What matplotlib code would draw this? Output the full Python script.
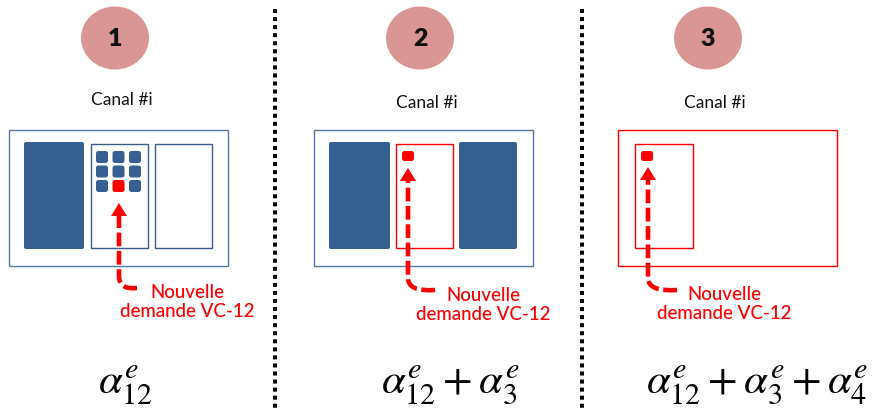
"""Three-step channel allocation diagram (VC-12 request)."""

import matplotlib.pyplot as plt
from matplotlib.patches import Ellipse, FancyBboxPatch, PathPatch, Polygon, Rectangle
from matplotlib.path import Path

plt.rcParams["mathtext.fontset"] = "stix"

# --- content -------------------------------------------------------------
STEP_LABELS = ["1", "2", "3"]
CHANNEL_LABEL = "Canal #i"
REQUEST_LABEL = "Nouvelle\ndemande VC-12"
FORMULAS = [
    r"$\alpha_{12}^{e}$",
    r"$\alpha_{12}^{e}+\alpha_{3}^{e}$",
    r"$\alpha_{12}^{e}+\alpha_{3}^{e}+\alpha_{4}^{e}$",
]
# slot state per panel: full = occupied block, grid = 3x3 tributaries,
# empty = free container, new = container holding only the new VC-12
SLOT_STATES = [
    ["full", "grid", "empty"],
    ["full", "new", "full"],
    ["new"],
]
GRID_ROWS = 3
GRID_COLS = 3
GRID_NEW_CELL = (2, 1)  # row, col of the new VC-12 inside the grid

# --- styles --------------------------------------------------------------
COLORS = {
    "circle": "#D99694",
    "block": "#376092",
    "slot_edge": "#385D8A",
    "outer_edge": "#5577A8",
    "red": "#FF0000",
    "text": "#111111",
}
SANS = ["Lato", "DejaVu Sans"]

# --- layout (pixel space, y pointing down) --------------------------------
W, H = 874, 409
SEPARATORS_X = [275, 582]
PANELS = [
    dict(circle=(115, 38), canal=(122, 100), outer=(9, 130, 219, 136),
         slots=[24, 91, 155], slot_w=[60, 57, 57], arrow_x=119, tip_y=203,
         end=(137, 288), text=(187.5, 302), formula=(126, 394), outer_red=False),
    dict(circle=(420, 38), canal=(427, 103), outer=(314, 130, 219, 136),
         slots=[329, 396, 459], slot_w=[61, 57, 58], arrow_x=408, tip_y=168,
         end=(435, 290), text=(483.5, 305), formula=(450, 394), outer_red=False),
    dict(circle=(708, 38), canal=(715, 103), outer=(618, 130, 219, 136),
         slots=[635], slot_w=[58], arrow_x=648, tip_y=167,
         end=(677, 290), text=(724, 304), formula=(757, 394), outer_red=True),
]
SLOT_TOP, SLOT_H = 144, 104
BLOCK_TOP, BLOCK_H = 142, 107


def draw_panel(ax, p, step, states, formula):
    cx, cy = p["circle"]
    ax.add_patch(Ellipse((cx, cy), 68, 63, facecolor=COLORS["circle"], edgecolor="none"))
    ax.text(cx, cy + 1, step, ha="center", va="center", fontsize=18,
            fontweight="heavy", color=COLORS["text"], family=SANS)
    ax.text(*p["canal"], CHANNEL_LABEL, ha="center", va="center", fontsize=12.5,
            color=COLORS["text"], family=SANS)

    ox, oy, ow, oh = p["outer"]
    outer_color = COLORS["red"] if p["outer_red"] else COLORS["outer_edge"]
    ax.add_patch(Rectangle((ox, oy), ow, oh, fill=False, edgecolor=outer_color, lw=1))

    for x, w, state in zip(p["slots"], p["slot_w"], states):
        if state == "full":
            ax.add_patch(FancyBboxPatch((x, BLOCK_TOP), w, BLOCK_H,
                                        boxstyle="round,pad=0,rounding_size=2",
                                        facecolor=COLORS["block"], edgecolor="none"))
            continue
        edge = COLORS["red"] if state == "new" else COLORS["slot_edge"]
        ax.add_patch(Rectangle((x, SLOT_TOP), w, SLOT_H, fill=False, edgecolor=edge, lw=1))
        if state == "grid":
            for r in range(GRID_ROWS):
                for c in range(GRID_COLS):
                    color = COLORS["red"] if (r, c) == GRID_NEW_CELL else COLORS["block"]
                    ax.add_patch(FancyBboxPatch((x + 5 + c * 16.5, 151 + r * 14.5), 12, 12,
                                                boxstyle="round,pad=0,rounding_size=2.5",
                                                facecolor=color, edgecolor="none"))
        elif state == "new":
            ax.add_patch(FancyBboxPatch((x + 6, 151), 12, 10,
                                        boxstyle="round,pad=0,rounding_size=2.5",
                                        facecolor=COLORS["red"], edgecolor="none"))

    # dashed curved arrow from the label up to the new VC-12
    ax_x, tip = p["arrow_x"], p["tip_y"]
    ex, ey = p["end"]
    path = Path([(ex, ey), (ax_x, ey + 2), (ax_x, ey - 12), (ax_x, tip + 12)],
                [Path.MOVETO, Path.CURVE3, Path.CURVE3, Path.LINETO])
    ax.add_patch(PathPatch(path, fill=False, edgecolor=COLORS["red"], lw=3.3,
                           linestyle=(0, (3.0, 1.0)), capstyle="butt"))
    ax.add_patch(Polygon([(ax_x, tip), (ax_x - 8, tip + 13), (ax_x + 8, tip + 13)],
                         closed=True, facecolor=COLORS["red"], edgecolor="none"))

    ax.text(*p["text"], REQUEST_LABEL, ha="center", va="center", ma="center",
            fontsize=13.5, fontweight="medium", color=COLORS["red"], family=SANS,
            linespacing=1.1)

    ax.text(*p["formula"], formula, ha="center", va="baseline", fontsize=31,
            color="black")


def main():
    fig = plt.figure(figsize=(W / 100, H / 100), dpi=100, facecolor="white")
    ax = fig.add_axes([0, 0, 1, 1])
    ax.set_xlim(0, W)
    ax.set_ylim(H, 0)
    ax.axis("off")

    for x in SEPARATORS_X:
        ax.plot([x, x], [9, H], color="black", lw=2.9, linestyle=(0, (1, 1)),
                dash_capstyle="butt")

    for p, step, states, formula in zip(PANELS, STEP_LABELS, SLOT_STATES, FORMULAS):
        draw_panel(ax, p, step, states, formula)

    fig.savefig("out.png", dpi=100, facecolor="white")
    plt.close(fig)


if __name__ == "__main__":
    main()
